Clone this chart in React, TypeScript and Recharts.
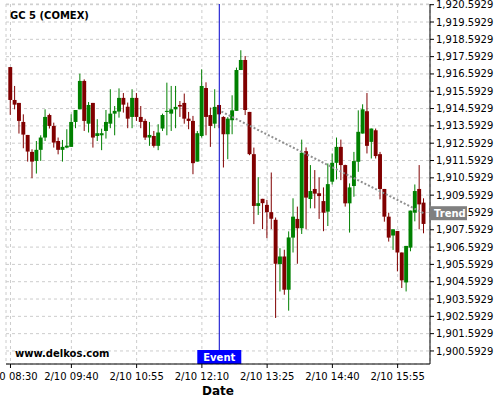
import React from 'react';
import {
  ComposedChart, Bar, XAxis, YAxis, CartesianGrid, ReferenceLine, ReferenceDot, Customized,
} from 'recharts';

// 5-minute candles, 2/10 08:30 .. 16:25
const opens = [
  1916.99, 1915.09, 1914.92, 1913.82, 1913.07, 1912.09, 1911.57, 1912.21, 1912.92, 1914.22,
  1913.59, 1912.72, 1912.21, 1912.34, 1912.38, 1913.82, 1914.55, 1916.19, 1913.72, 1914.92,
  1913.01, 1913.05, 1913.30, 1913.72, 1914.30, 1914.42, 1915.21, 1914.70, 1914.11, 1915.21,
  1914.11, 1913.88, 1912.92, 1913.01, 1912.44, 1913.44, 1914.40, 1914.30, 1914.55, 1914.80,
  1914.92, 1914.01, 1913.88, 1911.53, 1913.01, 1915.78, 1914.22, 1913.72, 1914.80, 1914.11,
  1913.11, 1913.92, 1914.46, 1916.82, 1917.40, 1914.40, 1911.96, 1908.97, 1909.38, 1909.03,
  1908.61, 1908.17, 1905.61, 1906.05, 1904.13, 1907.14, 1908.22, 1907.68, 1912.13, 1909.37,
  1909.95, 1909.70, 1909.25, 1908.64, 1910.37, 1911.46, 1912.38, 1911.33, 1909.12, 1910.12,
  1911.52, 1913.15, 1914.44, 1912.67, 1913.34, 1911.96, 1909.95, 1908.35, 1907.26, 1907.52,
  1906.28, 1904.55, 1906.56, 1908.58, 1909.95, 1909.16,
];
const highs = [
  1916.99, 1915.90, 1914.92, 1914.26, 1913.07, 1912.24, 1912.72, 1913.05, 1914.55, 1914.30,
  1913.78, 1912.92, 1912.78, 1913.40, 1914.26, 1914.51, 1916.61, 1916.28, 1914.97, 1914.92,
  1913.98, 1913.43, 1914.51, 1915.71, 1914.74, 1915.76, 1915.49, 1914.94, 1915.71, 1915.49,
  1914.74, 1914.00, 1913.82, 1913.30, 1913.69, 1914.30, 1916.09, 1915.90, 1915.90, 1915.03,
  1915.46, 1914.40, 1914.17, 1913.30, 1916.86, 1916.11, 1914.65, 1915.71, 1914.80, 1914.15,
  1914.10, 1915.36, 1916.96, 1917.96, 1917.63, 1914.40, 1912.34, 1910.63, 1909.38, 1909.32,
  1910.90, 1908.30, 1906.53, 1906.44, 1907.50, 1909.41, 1908.93, 1912.80, 1912.35, 1911.33,
  1911.04, 1910.62, 1910.04, 1911.42, 1912.00, 1912.92, 1912.80, 1911.35, 1910.27, 1912.09,
  1914.49, 1914.84, 1915.49, 1913.44, 1913.44, 1912.09, 1909.95, 1908.58, 1907.62, 1907.52,
  1906.28, 1906.66, 1908.70, 1910.21, 1911.33, 1909.41,
];
const lows = [
  1914.23, 1914.55, 1913.15, 1912.30, 1911.53, 1910.57, 1910.84, 1911.57, 1912.72, 1913.44,
  1912.34, 1911.95, 1911.53, 1912.30, 1912.38, 1913.46, 1914.55, 1913.30, 1913.21, 1912.34,
  1912.72, 1912.19, 1912.86, 1913.46, 1913.05, 1914.07, 1914.36, 1913.46, 1913.46, 1913.88,
  1913.46, 1912.78, 1912.44, 1912.34, 1912.19, 1913.30, 1913.05, 1913.30, 1913.46, 1914.11,
  1913.72, 1913.40, 1910.80, 1911.53, 1912.92, 1913.05, 1912.38, 1913.46, 1913.46, 1911.19,
  1911.67, 1913.11, 1914.46, 1916.82, 1914.22, 1911.90, 1907.92, 1908.45, 1907.63, 1907.11,
  1907.63, 1902.50, 1904.03, 1903.84, 1902.92, 1906.28, 1905.63, 1907.35, 1907.62, 1908.83,
  1908.83, 1908.22, 1907.51, 1907.81, 1910.21, 1910.50, 1910.46, 1908.93, 1907.43, 1909.50,
  1910.94, 1913.15, 1912.00, 1911.71, 1911.71, 1909.35, 1908.06, 1906.91, 1906.43, 1905.19,
  1904.23, 1904.03, 1906.35, 1908.08, 1907.62, 1907.39,
];
const closes = [
  1915.09, 1914.82, 1913.88, 1913.09, 1912.11, 1911.53, 1912.21, 1912.92, 1914.11, 1913.59,
  1912.63, 1912.21, 1912.38, 1912.45, 1913.82, 1914.51, 1916.19, 1913.88, 1914.80, 1912.92,
  1913.17, 1913.17, 1913.82, 1914.30, 1914.46, 1915.21, 1914.82, 1914.01, 1915.21, 1914.11,
  1913.82, 1912.92, 1913.07, 1912.44, 1913.21, 1914.22, 1914.46, 1914.55, 1914.69, 1914.71,
  1914.01, 1913.88, 1911.44, 1913.17, 1915.90, 1914.11, 1913.59, 1914.69, 1914.26, 1913.11,
  1914.01, 1914.49, 1916.82, 1917.40, 1914.51, 1911.96, 1908.97, 1909.13, 1909.13, 1908.61,
  1908.23, 1905.63, 1906.05, 1904.13, 1907.15, 1908.35, 1907.68, 1912.04, 1909.45, 1909.83,
  1909.68, 1909.54, 1908.58, 1910.23, 1911.46, 1912.38, 1911.33, 1909.12, 1910.04, 1911.56,
  1913.25, 1914.55, 1912.44, 1913.44, 1911.85, 1909.95, 1908.35, 1907.14, 1907.62, 1906.28,
  1904.67, 1906.66, 1908.70, 1909.83, 1909.06, 1907.93,
];

const majorTickIdx = [0, 14, 29, 44, 59, 74, 89];
const majorTickLabels = ['2/10 08:30', '2/10 09:40', '2/10 10:55', '2/10 12:10', '2/10 13:25', '2/10 14:40', '2/10 15:55'];

const priceBase = 1900.5929;
const priceTickCount = 21;

const eventIdx = 48;
const trendStart = { x: 48.5, y: 1914.42 };
const trendEnd = { x: 95, y: 1908.55 };

const X_DOMAIN: [number, number] = [-1.03, 96.44];
const Y_DOMAIN: [number, number] = [1899.84, 1920.633];

const UP = '#008000';
const DOWN = '#800000';

const data = opens.map((o, i) => ({
  i,
  open: o,
  high: highs[i],
  low: lows[i],
  close: closes[i],
}));

const priceTicks = Array.from({ length: priceTickCount }, (_, k) => priceBase + k);
const priceMinor = Array.from({ length: (priceTickCount - 1) * 5 + 1 }, (_, k) => priceBase + k * 0.2);

const minorX: number[] = [];
majorTickIdx.forEach((t, k) => {
  const next = majorTickIdx[k + 1];
  const step = next !== undefined ? (next - t) / 4 : (t - majorTickIdx[k - 1]) / 4;
  for (let v = t; next !== undefined ? v < next : v <= X_DOMAIN[1]; v += step) minorX.push(v);
});

const fmtPrice = (v: number) =>
  v.toLocaleString('en-US', { minimumFractionDigits: 4, maximumFractionDigits: 4 });

const Candle = (props: any) => {
  const { x, y, width, height, payload } = props;
  const { open, high, low, close } = payload;
  const k = height / (high - low || 1);
  const py = (v: number) => y + (high - v) * k;
  const color = close >= open ? UP : DOWN;
  const top = py(Math.max(open, close));
  const bot = py(Math.min(open, close));
  const cx = x + width / 2;
  return (
    <g>
      <line x1={cx} x2={cx} y1={y} y2={y + height} stroke={color} strokeWidth={1} />
      <rect x={x} y={top} width={width} height={Math.max(1, bot - top)} fill={color} />
    </g>
  );
};

const EventLabel = (props: any) => {
  const { viewBox } = props;
  const bottom = viewBox.y + viewBox.height;
  return (
    <g>
      <rect x={viewBox.x - 22} y={bottom - 14} width={44} height={14} fill="#0000ff" />
      <text x={viewBox.x} y={bottom - 3} textAnchor="middle" fill="#fff" fontSize={10} fontWeight="bold">
        Event
      </text>
    </g>
  );
};

const TrendTag = (props: any) => {
  const { cx, cy } = props;
  return (
    <g>
      <rect x={cx} y={cy - 7} width={37} height={14} fill="#808080" />
      <text x={cx + 4} y={cy + 4} fill="#fff" fontSize={10} fontWeight="bold">Trend</text>
    </g>
  );
};

const Titles = () => (
  <g>
    <text x={10} y={19} fontSize={10} fontWeight="bold" fill="#000">GC 5 (COMEX)</text>
    <text x={15} y={357} fontSize={10} fontWeight="bold" fill="#000">www.delkos.com</text>
  </g>
);

export default function App() {
  return (
    <div style={{ position: 'absolute', left: 0, top: 0, width: 500, height: 400, background: '#fff', fontFamily: 'DejaVu Sans' }}>
      <ComposedChart width={500} height={400} data={data} margin={{ top: 4, right: 0, bottom: 0, left: 6 }}>
        <XAxis
          xAxisId="minor" dataKey="i" type="number" domain={X_DOMAIN} allowDataOverflow
          ticks={minorX} height={0} tickSize={3} tickFormatter={() => ''} axisLine={false}
          stroke="#000"
        />
        <YAxis
          yAxisId="minor" orientation="right" type="number" domain={Y_DOMAIN} allowDataOverflow
          ticks={priceMinor} width={0} tickSize={2} tickFormatter={() => ''} axisLine={false}
          stroke="#000"
        />
        <XAxis
          dataKey="i" type="number" domain={X_DOMAIN} allowDataOverflow ticks={majorTickIdx} interval={0}
          tickFormatter={(v: number) => majorTickLabels[majorTickIdx.indexOf(v)] ?? ''}
          height={36} tickSize={4} tickMargin={5} stroke="#000"
          tick={{ fontSize: 10, fill: '#000' }}
          label={{ value: 'Date', position: 'insideBottom', offset: 5, fontSize: 12, fontWeight: 'bold', fill: '#000' }}
        />
        <YAxis
          orientation="right" type="number" domain={Y_DOMAIN} allowDataOverflow ticks={priceTicks} interval={0}
          tickFormatter={fmtPrice} width={70} tickSize={4} tickMargin={2} stroke="#000"
          tick={{ fontSize: 10, fill: '#000' }}
        />
        <CartesianGrid stroke="#cccccc" strokeDasharray="3 3" />
        <Bar
          dataKey={(d: any) => [d.low, d.high]} barSize={5} shape={<Candle />} isAnimationActive={false}
        />
        <ReferenceLine
          segment={[trendStart, trendEnd]} stroke="#909090" strokeWidth={2} strokeDasharray="2 2"
        />
        <ReferenceLine x={eventIdx} stroke="#0000cc" strokeWidth={1} label={<EventLabel />} />
        <ReferenceDot
          x={X_DOMAIN[1]} y={trendEnd.y} ifOverflow="visible" shape={<TrendTag />} zIndex={2000}
        />
        <Customized component={<Titles />} />
      </ComposedChart>
    </div>
  );
}
